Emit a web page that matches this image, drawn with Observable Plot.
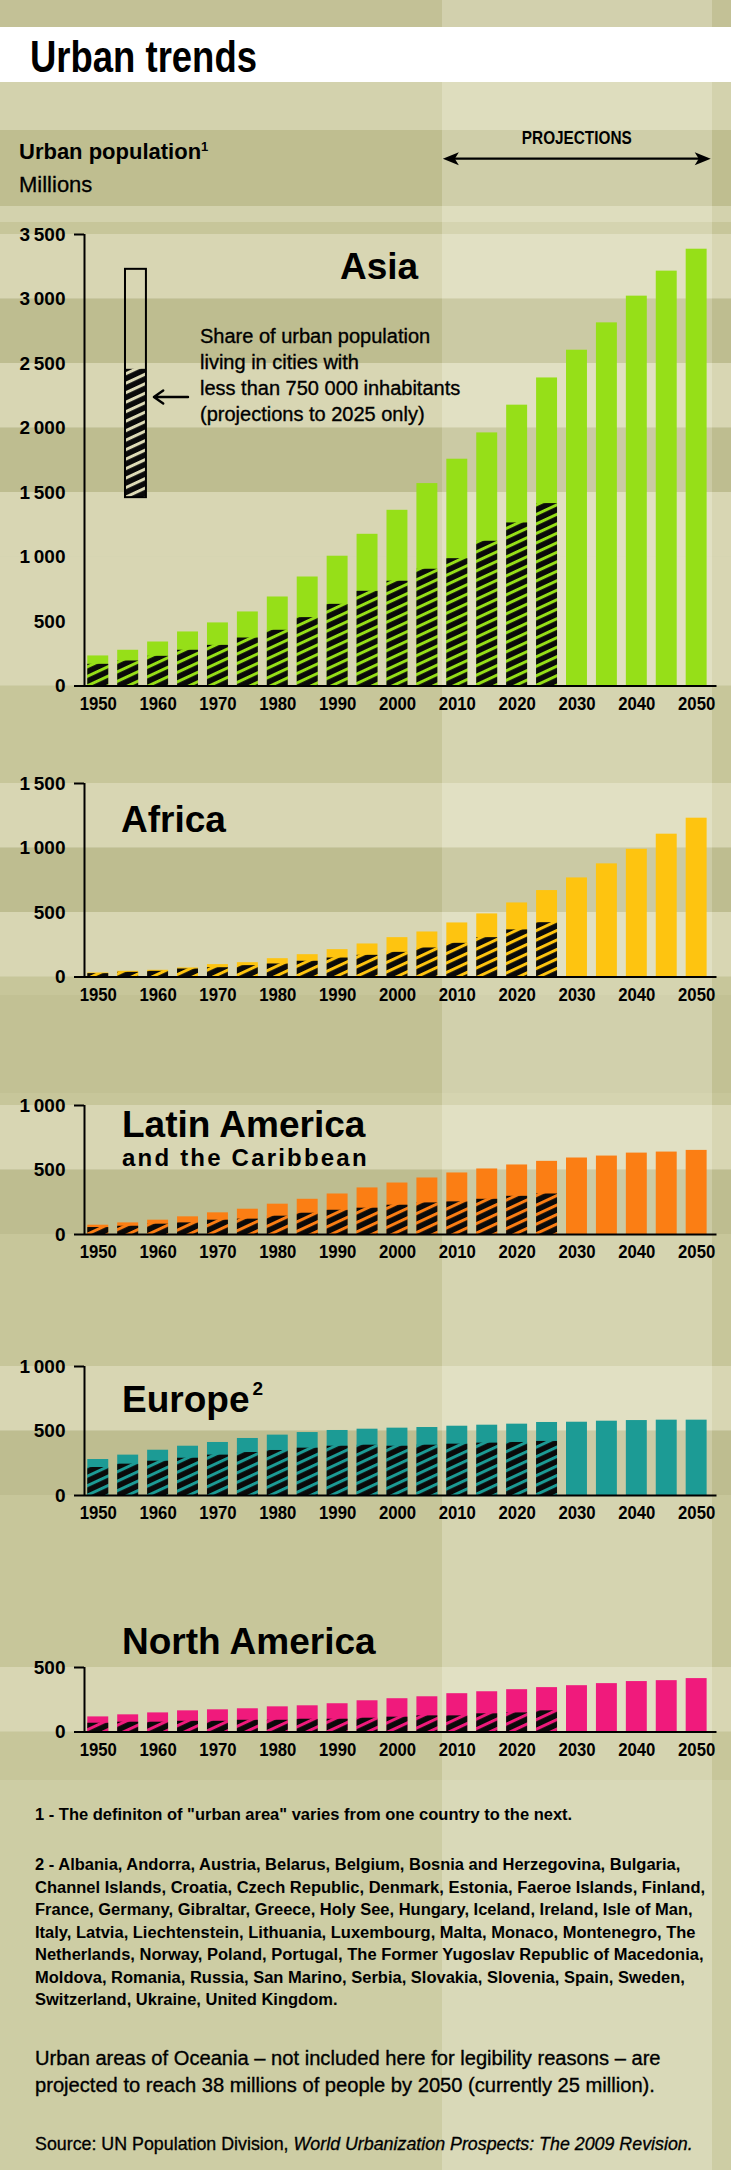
<!DOCTYPE html>
<html><head><meta charset="utf-8">
<script src="https://cdn.jsdelivr.net/npm/d3@7"></script>
<script src="https://cdn.jsdelivr.net/npm/@observablehq/plot@0.6"></script>
<style>
html,body{margin:0;padding:0;background:#c7c69a;}
#page{position:relative;width:731px;height:2170px;overflow:hidden;background:#c7c69a;font-family:"Liberation Sans",Arial,sans-serif;}
#page > svg, #page > div{position:absolute;left:0;}
</style></head><body><div id="page"></div>
<script>
// ---------- data ----------
const years = [1950,1955,1960,1965,1970,1975,1980,1985,1990,1995,2000,2005,2010,2015,2020,2025,2030,2035,2040,2045,2050];
const xTickYears = [1950,1960,1970,1980,1990,2000,2010,2020,2030,2040,2050];
const asiaTotal   = [233,277,341,419,489,574,690,845,1006,1176,1362,1569,1758,1962,2177,2388,2603,2815,3022,3216,3386];
const asiaSmall   = [168,194,230,277,315,372,432,530,633,734,812,905,987,1122,1264,1414];
const africaTotal = [31,44,52,70,96,111,142,173,212,256,305,349,419,489,574,670,768,877,990,1107,1231];
const africaSmall = [26,36,44,62,72,88,101,122,147,168,191,225,261,305,365,421];
const latinTotal  = [72,90,111,137,168,196,235,273,314,361,399,438,477,508,539,567,593,608,631,639,652];
const latinSmall  = [54,64,80,90,111,119,142,165,188,204,227,245,253,273,296,314];
const europeTotal = [279,313,351,382,411,442,468,488,504,514,522,527,537,545,553,566,568,576,581,584,584];
const europeSmall = [217,243,266,289,313,333,349,367,382,390,382,390,398,406,411,419];
const naTotal     = [117,133,148,164,172,180,195,203,219,242,258,273,297,312,328,344,359,375,391,398,414];
const naSmall     = [68,76,76,83,83,91,91,99,99,107,115,125,125,141,148,164];
const yMaxima     = {asia:3500, africa:1500, latin:1000, europe:1000, na:500};
const darkBandTops = {asia:[3000,2000], africa:[1000], latin:[500], europe:[500], na:[]};
const projStart = 2007.5, projEnd = 2052.6;       // projection period shading
const legendBar = {year:1956.3, top:3230, split:2455, bottom:1460};
const legendArrow = {from:1965.0, to:1959.3, y:2240};

// ---------- layout ----------
const SANS = '"Liberation Sans",Arial,sans-serif';
const K = 0.129;               // px per million, common to all panels
const M = {top:12, bottom:40, left:84, right:14.5};
const xDomain = [1947.7, 2053.4];
const halfBar = 1.75;
const fmt = d3.formatLocale({decimal:".", thousands:"\u2009", grouping:[3], currency:["",""]}).format(",");

const regions = [
  {key:"asia",   total:asiaTotal,   small:asiaSmall,   color:"#96df18", top:222},
  {key:"africa", total:africaTotal, small:africaSmall, color:"#fec410", top:771},
  {key:"latin",  total:latinTotal,  small:latinSmall,  color:"#fb7e14", top:1093},
  {key:"europe", total:europeTotal, small:europeSmall, color:"#1c9b95", top:1354},
  {key:"na",     total:naTotal,     small:naSmall,     color:"#f01a7c", top:1655}
];

const page = document.getElementById("page");

function strip(y, h, color) {
  const d = document.createElement("div");
  d.style.cssText = `top:${y}px;height:${h}px;width:731px;background:${color};`;
  page.appendChild(d);
}
strip(0, 27, "rgba(80,78,20,0.03)");
strip(82, 48, "rgba(255,255,240,0.22)");
strip(130, 76, "rgba(80,78,20,0.07)");
strip(206, 16, "rgba(255,255,240,0.22)");
strip(995, 98, "rgba(80,78,20,0.04)");
strip(1780, 390, "rgba(255,255,240,0.12)");

function makeChart(r) {
  const yMax = yMaxima[r.key];
  const bars = years.map((year, i) => ({year, value: r.total[i]}));
  const hatched = r.small.map((value, i) => ({year: years[i], value}));
  const ticks = d3.range(0, yMax + 1, 500);
  const intervals = ticks.slice(1).map(t => ({lo: t - 500, hi: t}));
  const dark = intervals.filter(d => darkBandTops[r.key].includes(d.hi));
  const light = intervals.filter(d => !darkBandTops[r.key].includes(d.hi));
  const full = {x1: () => xDomain[0], x2: () => xDomain[1], y1: "lo", y2: "hi", insetLeft: -M.left, insetRight: -M.right};
  const marks = [
    Plot.rect(light, {...full, fill: "#fffdf0", fillOpacity: 0.3}),
    Plot.rect(dark, {...full, fill: "#4d4a10", fillOpacity: 0.07}),
    Plot.rect(bars, {x1: d => d.year - halfBar, x2: d => d.year + halfBar, y1: () => 0, y2: "value", fill: r.color}),
    Plot.rect(hatched, {x1: d => d.year - halfBar, x2: d => d.year + halfBar, y1: () => 0, y2: "value", fill: `url(#hatch-${r.key})`}),
    Plot.ruleX([xDomain[0]], {y1: 0, y2: yMax, strokeWidth: 2, stroke: "#000"}),
    Plot.ruleY([0], {strokeWidth: 2, stroke: "#000"}),
    Plot.axisY({ticks: [0, yMax], tickSize: 10, tickFormat: () => "", strokeWidth: 2}),
    Plot.axisY({ticks, tickSize: 0, tickPadding: 19, tickFormat: fmt, fontSize: 19, fontWeight: "bold", fontFamily: SANS}),
    Plot.axisX({ticks: xTickYears, tickSize: 0, tickPadding: 10, tickFormat: d => String(d), fontSize: 19, fontWeight: "bold", fontFamily: SANS})
  ];
  if (r.key === "asia") {
    marks.push(
      Plot.rect([legendBar], {x1: d => d.year - halfBar, x2: d => d.year + halfBar, y1: "bottom", y2: "split", fill: "url(#hatch-legend)"}),
      Plot.rect([legendBar], {x1: d => d.year - halfBar, x2: d => d.year + halfBar, y1: "bottom", y2: "top", fill: "none", stroke: "#000", strokeWidth: 2}),
      Plot.arrow([legendArrow], {x1: "from", x2: "to", y1: "y", y2: "y", bend: 0, headLength: 10, headAngle: 70, strokeWidth: 2.4, stroke: "#000"})
    );
  }
  const svg = Plot.plot({
    width: 731, height: M.top + yMax * K + M.bottom,
    marginTop: M.top, marginBottom: M.bottom, marginLeft: M.left, marginRight: M.right,
    x: {domain: xDomain}, y: {domain: [0, yMax]},
    style: {background: "transparent", overflow: "visible", color: "#000", fontFamily: SANS},
    marks
  });
  const stripe = (id, c) => `<pattern id="${id}" patternUnits="userSpaceOnUse" width="10" height="8.6" patternTransform="rotate(-25)"><rect width="10" height="8.6" fill="#0a0a0a"/><rect width="10" height="3" fill="${c}"/></pattern>`;
  svg.insertAdjacentHTML("afterbegin", `<defs>${stripe("hatch-" + r.key, r.color)}${r.key === "asia" ? stripe("hatch-legend", "#dedbb7") : ""}</defs>`);
  svg.style.top = r.top + "px";
  return svg;
}

const charts = regions.map(makeChart);
const xs = charts[0].scale("x");
const colL = xs.apply(projStart), colR = xs.apply(projEnd);
const col = document.createElement("div");
col.style.cssText = `top:0;height:2170px;left:${colL}px;width:${colR - colL}px;background:rgba(255,255,245,0.25);`;
page.appendChild(col);
const band = document.createElement("div");
band.style.cssText = "top:27px;height:55px;width:731px;background:#fff;";
page.appendChild(band);
charts.forEach(c => page.appendChild(c));

// condensed x tick labels (Helvetica Condensed look)
charts.forEach(c => {
  c.querySelectorAll('g[aria-label="x-axis tick label"] text').forEach(t => {
    const tr = t.getAttribute("transform");
    if (tr) t.setAttribute("transform", tr + " scale(0.88,1)");
  });
});

// ---------- text overlay ----------
const ov = d3.select(page).append("svg").attr("width", 731).attr("height", 2170).style("top", "0px").style("pointer-events", "none");
function txt(x, y, s, o = {}) {
  const g = ov.append("g").attr("transform", `translate(${x},${y})`);
  const t = g.append("text")
    .attr("font-family", SANS).attr("font-size", o.size || 16)
    .attr("font-weight", o.weight || "normal").attr("fill", "#000")
    .attr("text-anchor", o.anchor || "start").text(s);
  if (o.ls) t.attr("letter-spacing", o.ls);
  if (o.stroke) t.attr("stroke", "#000").attr("stroke-width", o.stroke);
  if (o.italic) t.append("tspan").attr("font-style", "italic").text(o.italic);
  t.node().__g = g;
  return t;
}
function squeeze(t, sx) { t.node().__g.attr("transform", t.node().__g.attr("transform") + ` scale(${sx},1)`); }
function fit(t, width) { const sx = width / t.node().getComputedTextLength(); squeeze(t, sx); return sx; }

const title = txt(30, 72, "Urban trends", {size: 44, weight: "bold"});
fit(title, 227);
const up = txt(19, 159, "Urban population", {size: 22, weight: "bold"});
up.append("tspan").attr("font-size", 13).attr("dy", -8).text("1");
txt(19, 192, "Millions", {size: 22, stroke: 0.3});
const proj = txt((colL + colR) / 2, 143.5, "PROJECTIONS", {size: 19, weight: "bold", anchor: "middle"});
fit(proj, 110);
const ay = 158.7, a1 = colL + 1, a2 = colR - 1;
ov.append("line").attr("x1", a1 + 8).attr("x2", a2 - 8).attr("y1", ay).attr("y2", ay).attr("stroke", "#000").attr("stroke-width", 2.2);
ov.append("path").attr("d", `M${a1},${ay} l16,-6.5 l-4,6.5 l4,6.5 z M${a2},${ay} l-16,-6.5 l4,6.5 l-4,6.5 z`).attr("fill", "#000");

// headings
txt(340, 279, "Asia", {size: 37, weight: "bold"});
txt(121, 832, "Africa", {size: 37, weight: "bold"});
txt(122, 1137, "Latin America", {size: 37, weight: "bold"});
txt(122, 1166, "and the Caribbean", {size: 24, weight: "bold", ls: 2.2});
const eu = txt(122, 1412, "Europe", {size: 37, weight: "bold"});
eu.append("tspan").attr("font-size", 19).attr("dy", -17).attr("dx", 3).text("2");
txt(122, 1654, "North America", {size: 37, weight: "bold"});

// legend text
["Share of urban population", "living in cities with", "less than 750\u00a0000 inhabitants", "(projections to 2025 only)"]
  .forEach((s, i) => txt(200, 343.3 + i * 25.8, s, {size: 20, stroke: 0.35}));

// footnotes
const fnLines = ["2 - Albania, Andorra, Austria, Belarus, Belgium, Bosnia and Herzegovina, Bulgaria,",
 "Channel Islands, Croatia, Czech Republic, Denmark, Estonia, Faeroe Islands, Finland,",
 "France, Germany, Gibraltar, Greece, Holy See, Hungary, Iceland, Ireland, Isle of Man,",
 "Italy, Latvia, Liechtenstein, Lithuania, Luxembourg, Malta, Monaco, Montenegro, The",
 "Netherlands, Norway, Poland, Portugal, The Former Yugoslav Republic of Macedonia,",
 "Moldova, Romania, Russia, San Marino, Serbia, Slovakia, Slovenia, Spain, Sweden,",
 "Switzerland, Ukraine, United Kingdom."];
const fnTexts = fnLines.map((s, i) => txt(35, 1870 + i * 22.5, s, {size: 16.8, weight: "bold"}));
const fnScale = 670 / fnTexts[1].node().getComputedTextLength();
fnTexts.forEach(t => squeeze(t, fnScale));
const fn1 = txt(35, 1820, "1 - The definiton of \"urban area\" varies from one country to the next.", {size: 16.8, weight: "bold"});
squeeze(fn1, fnScale);
const oc1 = txt(35, 2065, "Urban areas of Oceania \u2013 not included here for legibility reasons \u2013 are", {size: 21, stroke: 0.35});
const oc2 = txt(35, 2091.7, "projected to reach 38 millions of people by 2050 (currently 25 million).", {size: 21, stroke: 0.35});
const ocScale = fit(oc1, 626);
squeeze(oc2, ocScale);
const src = txt(35, 2150, "Source: UN Population Division, ", {size: 17.5, stroke: 0.3, italic: "World Urbanization Prospects: The 2009 Revision."});
fit(src, 658);
</script></body></html>
